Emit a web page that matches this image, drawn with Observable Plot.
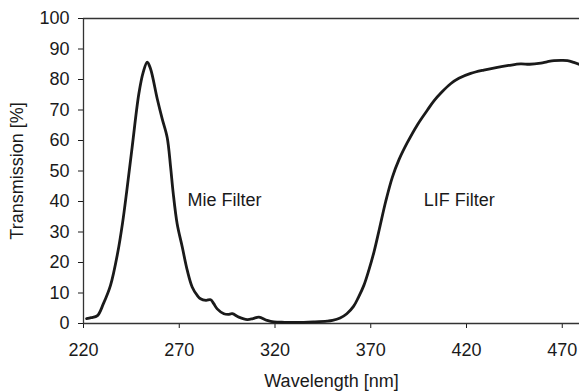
<!DOCTYPE html>
<html>
<head>
<meta charset="utf-8">
<script src="https://cdn.jsdelivr.net/npm/d3@7"></script>
<script src="https://cdn.jsdelivr.net/npm/@observablehq/plot@0.6"></script>
<style>
  html, body { margin: 0; padding: 0; background: #fff; }
  #chart svg { display: block; }
</style>
</head>
<body>
<div id="chart"></div>
<script>
const wavelength = [
  221.6, 224, 227.3, 230.4, 234.1, 237.8, 240.4, 242.5, 245.4, 248.9,
  251.2, 253.3, 255, 258.5, 261.1, 263.7, 265.5, 266.8, 268.9, 271.6,
  274.2, 276.8, 279.4, 281.1, 284, 286.4, 288, 289.8, 293.3, 295.5,
  297.7, 301.1, 305.5, 308.5, 311.6, 315.9, 319.4, 325, 330, 335,
  340, 347.2, 350, 354, 357.5, 361, 363.5, 366.4, 369, 371.7,
  374.5, 377.8, 381.3, 384.8, 389, 394.4, 399.6, 403, 407, 411.7,
  416, 422.2, 429, 436.1, 442, 448.2, 453, 458.8, 462, 465.7,
  470, 472.7, 476, 479
];
const transmission = [
  1.6, 1.9, 2.6, 6.5, 12.5, 23, 33, 43, 57.8, 75.3,
  82.4, 85.7, 83.5, 73.7, 67.1, 61, 51.2, 43, 32.7, 25,
  17.4, 11.9, 9.2, 8.1, 7.6, 7.8, 6.5, 4.8, 3.2, 3.0,
  3.2, 2.1, 1.3, 1.6, 2.1, 1.0, 0.5, 0.4, 0.4, 0.4,
  0.5, 0.75, 1.0, 1.8, 3.2, 5.6, 8.5, 12.5, 17.5, 23.5,
  31, 40, 48, 53.8, 59.2, 65.2, 70, 73, 75.8, 78.6,
  80.4, 82, 83.1, 84, 84.6, 85.1, 85.0, 85.4, 85.8, 86.2,
  86.3, 86.2, 85.6, 84.9
];
const xTicks = [220, 270, 320, 370, 420, 470];
const yTicks = [0, 10, 20, 30, 40, 50, 60, 70, 80, 90, 100];
const labelText = ["Mie Filter", "LIF Filter"];
const labelX = [274.3, 397.7];
const labelY = [40.3, 40.3];

const curve = wavelength.map((w, i) => ({w, t: transmission[i]}));
const labels = labelText.map((s, i) => ({s, x: labelX[i], y: labelY[i]}));

const chart = Plot.plot({
  width: 579,
  height: 391,
  marginLeft: 83,
  marginRight: 0,
  marginTop: 18,
  marginBottom: 68,
  style: {fontFamily: "'Liberation Sans', Arial, sans-serif", fontSize: "18px", color: "#1a1a1a", background: "#fff"},
  x: {domain: [220, 479], ticks: xTicks, tickSize: 5, tickPadding: 15, label: "Wavelength [nm]", labelAnchor: "center", labelOffset: 63, labelArrow: "none"},
  y: {domain: [0, 100], ticks: yTicks, tickSize: 5, tickPadding: 9, label: "Transmission [%]", labelAnchor: "center", labelOffset: 73, labelArrow: "none"},
  marks: [
    Plot.ruleY([100], {stroke: "#333", strokeWidth: 1.3}),
    Plot.ruleX([220], {stroke: "#333", strokeWidth: 1.3}),
    Plot.ruleY([0], {stroke: "#333", strokeWidth: 1.3}),
    Plot.line(curve, {x: "w", y: "t", stroke: "#1a1a1a", strokeWidth: 2.8, curve: "catmull-rom"}),
    Plot.text(labels, {x: "x", y: "y", text: "s", textAnchor: "start", lineAnchor: "middle", fill: "#1a1a1a", fontSize: 18})
  ]
});
document.getElementById("chart").appendChild(chart);
</script>
</body>
</html>
